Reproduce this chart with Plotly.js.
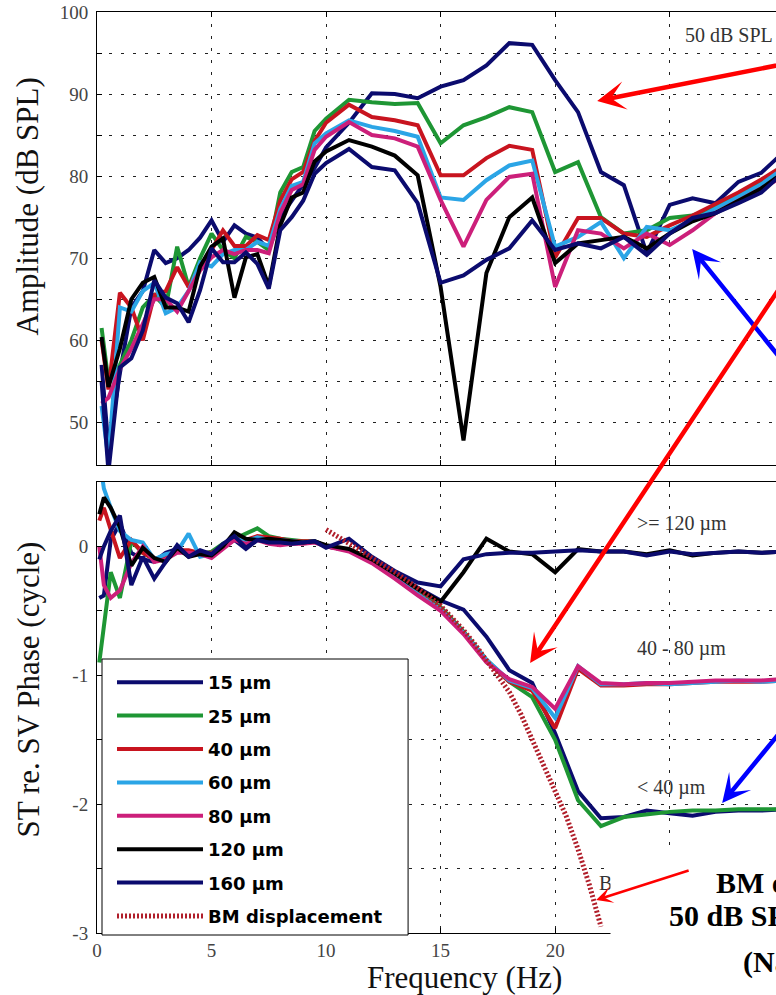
<!DOCTYPE html>
<html><head><meta charset="utf-8">
<script src="https://cdn.plot.ly/plotly-3.0.1.min.js"></script>
<style>html,body{margin:0;padding:0;overflow:hidden;background:#fff;width:776px;height:995px}#chart{width:1000px;height:995px}</style>
</head><body><div id="chart"></div><script>
// ---------------- data ----------------
const seriesNames = ['15 \u00b5m','25 \u00b5m','40 \u00b5m','60 \u00b5m','80 \u00b5m','120 \u00b5m','160 \u00b5m'];
const bmName = 'BM displacement';

const freqAmp = [0.2,0.5,1,1.5,2,2.5,3,3.5,4,4.5,5,5.5,6,6.5,7,7.5,8,8.5,9,9.5,10,11,12,13,14,15,16,17,18,19,20,21,22,23,24,25,26,27,28,29,30];
const amp15  = [57,47,56,64,66,71,69.4,70,71,72.5,74.6,72,74,73,72.5,71,75,77,79,81,83.5,86.5,90.1,90,89.5,90.9,91.7,93.5,96.2,96,91.7,87.8,80.5,78.9,70.6,76.5,77.3,76.7,79.3,80.4,83];
const amp25  = [61.5,55,57,60,64,65.5,64,71.4,66.5,70,73,71,70,72.6,72,71,78,80.5,81.1,85.5,87,89.3,89,88.8,88.9,84,86.2,87.2,88.4,87.8,80.5,81.7,75,73,73.4,74.9,75.2,76.2,77.6,79.2,81.2];
const amp40  = [60,54,65.8,64,60,65.5,66,68.9,66.5,69,71,73.4,71.5,71.5,72.8,72.2,77,79.6,80.5,84.3,86.5,88.7,87.2,86.8,86.2,80.1,80.1,82.2,83.7,83.2,70.1,74.9,74.9,73,72.6,74,75.2,76.6,78,79.6,81.3];
const amp60  = [52,45.5,64,63.5,66,67,63.3,64,66,69.5,69,70.5,71,71,72,71.5,76,78.8,79.3,84,85.2,86.8,86,85.5,84.8,77.4,77.1,79.5,81.3,81.9,71.4,72.6,74.4,70,73.8,73.4,74.6,76,77.5,79,81];
const amp80  = [52.3,53,56.5,59,62,65,65,63.5,66,68.5,70.1,71,70.5,71,71,70.6,75.5,78.3,79,83.2,84.8,86.6,85,84.6,83.6,77.1,71.4,77.1,79.9,80.3,66.5,73.4,73,71.2,73,71.6,73.4,75.5,77,78.5,80];
const amp120 = [60.4,54.3,59,65,67,67.7,64,64,63.5,69,71.4,72.4,65.2,70.1,70.5,66.6,74,77.4,78,81.8,83,84.4,83.6,82.5,80.1,66.5,47.8,68.2,75,77.4,69.4,71.8,72.2,72.6,71.2,73,74.5,75.5,77,78.5,80.5];
const amp160 = [55,44,56.7,57.8,61.2,67.3,65.2,64.5,62.2,66.1,71.2,69.5,69.5,70.7,69.3,66.3,73.4,75,77,80.3,81.6,83.3,81.1,80.7,76.7,67,67.9,69.8,71.2,74.6,71,71.8,71.2,72.6,70.4,73,74.9,75.5,76.7,78,80.5];

const freqPhase = [0.1,0.3,0.6,1,1.5,2,2.5,3,3.5,4,4.5,5,5.5,6,6.5,7,7.5,8,8.5,9,9.5,10,11,12,13,14,15,16,17,18,19,20,21,22,23,24,25,26,27,28,29,30];
const phase15  = [-0.4,-0.38,0.05,0.18,-0.05,-0.1,-0.12,-0.05,-0.02,-0.07,-0.05,-0.07,0.0,0.05,-0.02,0.05,0.04,0.03,0.02,0.03,0.04,0.0,-0.03,-0.1,-0.21,-0.32,-0.42,-0.49,-0.7,-0.96,-1.06,-1.45,-1.9,-2.11,-2.1,-2.05,-2.07,-2.09,-2.06,-2.05,-2.05,-2.04];
const phase25  = [-0.9,-0.6,-0.2,-0.4,0.04,-0.05,-0.1,-0.08,-0.02,-0.05,-0.06,-0.04,0.02,0.06,0.1,0.14,0.08,0.06,0.05,0.04,0.04,0.0,-0.03,-0.12,-0.24,-0.36,-0.47,-0.66,-0.88,-1.05,-1.17,-1.5,-1.97,-2.17,-2.1,-2.08,-2.06,-2.05,-2.05,-2.04,-2.04,-2.04];
const phase40  = [0.2,0.3,0.13,-0.09,0.05,-0.05,-0.1,-0.07,-0.03,-0.03,-0.05,-0.05,0.0,0.06,0.05,0.08,0.07,0.06,0.04,0.04,0.04,0.0,-0.03,-0.12,-0.24,-0.37,-0.48,-0.67,-0.89,-1.05,-1.12,-1.41,-0.95,-1.08,-1.08,-1.07,-1.07,-1.06,-1.05,-1.05,-1.05,-1.04];
const phase60  = [0.7,0.45,0.3,0.12,0.05,0.03,-0.1,-0.06,-0.04,0.1,-0.08,-0.06,0.0,0.06,0.04,0.07,0.05,0.05,0.04,0.03,0.04,0.0,-0.03,-0.12,-0.24,-0.37,-0.49,-0.67,-0.88,-1.04,-1.1,-1.33,-0.93,-1.07,-1.07,-1.06,-1.07,-1.06,-1.05,-1.04,-1.05,-1.04];
const phase80  = [0.0,-0.3,-0.4,-0.34,-0.13,0.0,-0.12,-0.1,-0.05,-0.05,-0.06,-0.09,-0.02,0.05,0.02,0.05,0.02,0.01,0.02,0.02,0.03,0.0,-0.04,-0.13,-0.25,-0.38,-0.5,-0.68,-0.9,-1.03,-1.09,-1.26,-0.93,-1.06,-1.07,-1.06,-1.06,-1.05,-1.04,-1.04,-1.04,-1.03];
const phase120 = [0.25,0.38,0.3,0.15,-0.15,-0.01,-0.09,-0.12,-0.01,-0.08,-0.06,-0.07,0.0,0.11,0.06,0.05,0.06,0.05,0.04,0.03,0.04,0.01,-0.02,-0.1,-0.21,-0.33,-0.43,-0.2,0.06,-0.04,-0.06,-0.2,-0.02,-0.04,-0.04,-0.06,-0.03,-0.07,-0.05,-0.04,-0.05,-0.04];
const phase160 = [-0.1,0.0,0.12,0.24,-0.3,-0.08,-0.25,-0.12,0.01,-0.08,-0.03,-0.06,0.02,0.08,-0.01,0.05,0.03,0.03,0.02,0.03,0.04,-0.01,0.06,-0.08,-0.19,-0.28,-0.31,-0.1,-0.06,-0.05,-0.05,-0.04,-0.03,-0.04,-0.04,-0.07,-0.04,-0.06,-0.05,-0.04,-0.05,-0.04];

const freqBM  = [10,10.5,11,11.5,12,12.5,13,13.5,14,14.5,15,15.5,16,16.5,17,17.5,18,18.5,19,19.5,20,20.5,21,21.5,22];
const phaseBM = [0.13,0.08,0.03,-0.03,-0.09,-0.14,-0.2,-0.26,-0.32,-0.39,-0.46,-0.55,-0.65,-0.76,-0.88,-1.0,-1.13,-1.3,-1.5,-1.68,-1.88,-2.1,-2.35,-2.63,-2.95];

// tick labels (25 and 30 lie under the white caption panel in the reference)
const xTickVals = [0,5,10,15,20,25,30];
const xTickText = ['0','5','10','15','20','',''];
const ampTickVals = [50,55,60,65,70,75,80,85,90,95,100];
const ampTickText = ['50','','60','','70','','80','','90','','100'];
const phTickVals = [-3,-2.5,-2,-1.5,-1,-0.5,0,0.5];
const phTickText = ['-3','','-2','','-1','','0',''];

// ---------------- styles / layout ----------------
const ampSeries = [amp15,amp25,amp40,amp60,amp80,amp120,amp160];
const phSeries = [phase15,phase25,phase40,phase60,phase80,phase120,phase160];
const colors = ['#0b0b6e','#1e9634','#c8141f','#2ba5e6','#cc1f7a','#000000','#0b0b6e'];
const bmColor = '#b01e2a';

const W = 1000, H = 995;
const L = 97, T = 12, Bm = 62;
const XMAX = 32, PXHZ = 22.9;
const plotW = XMAX * PXHZ;
const R = W - L - plotW;
const plotH = H - T - Bm;
const px2x = px => (px - L) / plotW;
const py2y = py => (H - Bm - py) / plotH;

const serif = 'Liberation Serif, Times New Roman, serif';
const traces = [];
for (let i = 0; i < seriesNames.length; i++) {
  traces.push({x: freqAmp, y: ampSeries[i], xaxis: 'x2', yaxis: 'y', mode: 'lines', name: seriesNames[i],
    legendgroup: 'g' + i, showlegend: false, line: {color: colors[i], width: 4}, hoverinfo: 'skip'});
}
for (let i = 0; i < seriesNames.length; i++) {
  traces.push({x: freqPhase, y: phSeries[i], xaxis: 'x', yaxis: 'y2', mode: 'lines', name: seriesNames[i],
    legendgroup: 'g' + i, showlegend: true, line: {color: colors[i], width: 4}, hoverinfo: 'skip'});
}
traces.push({x: freqBM, y: phaseBM, xaxis: 'x', yaxis: 'y2', mode: 'lines', name: bmName, legendgroup: 'gbm',
  showlegend: true, line: {color: bmColor, width: 5, dash: '2px,2px'}, hoverinfo: 'skip'});

const axCommon = {showline: true, linecolor: '#000', linewidth: 1, mirror: 'ticks', ticks: 'inside', ticklen: 5,
  tickcolor: '#000', showgrid: true, gridcolor: '#222', gridwidth: 1, griddash: '3px,9px', zeroline: false,
  tickfont: {family: serif, size: 19, color: '#444'}, tickmode: 'array', fixedrange: true};

function ann(text, px, py, size, opts) {
  return Object.assign({text: text, x: px2x(px), y: py2y(py), xref: 'paper', yref: 'paper', showarrow: false,
    xanchor: 'left', yanchor: 'middle', font: {family: serif, size: size, color: '#333'}}, opts || {});
}
function arrow(hx, hy, tx, ty, color, width, size) {
  return {text: '', x: px2x(hx), y: py2y(hy), xref: 'paper', yref: 'paper', ax: tx - hx, ay: ty - hy,
    axref: 'pixel', ayref: 'pixel', showarrow: true, arrowhead: 3, arrowsize: size, arrowwidth: width,
    arrowcolor: color, standoff: 0, startstandoff: 0};
}

const annotations = [
  ann('Amplitude (dB SPL)', 28.5, 206, 31, {textangle: -90, xanchor: 'center', font: {family: serif, size: 31, color: '#111'}}),
  ann('ST re. SV Phase (cycle)', 28.5, 689, 31, {textangle: -90, xanchor: 'center', font: {family: serif, size: 31, color: '#111'}}),
  ann('Frequency (Hz)', 464, 977, 31, {xanchor: 'center', font: {family: serif, size: 31, color: '#111'}}),
  ann('50 dB SPL', 683, 35, 20),
  ann('&gt;= 120 \u00b5m', 635, 523, 20),
  ann('40 - 80 \u00b5m', 635, 648, 20),
  ann('&lt; 40 \u00b5m', 635, 787, 20),
  ann('BM', 597, 883, 20),
  // white panel covering the lower right corner
  ann(' ', 610, 850, 10, {yanchor: 'top', width: 400, height: 200, bgcolor: '#fff', borderpad: 0}),
  ann('BM data at', 714, 882, 30, {font: {family: serif, size: 30, color: '#000', weight: 'bold'}}),
  ann('50 dB SPL from', 667, 915, 30, {font: {family: serif, size: 30, color: '#000', weight: 'bold'}}),
  ann('(Narayan 1998)', 741, 962, 30, {font: {family: serif, size: 30, color: '#000', weight: 'bold'}}),
  arrow(596, 900, 690, 870, '#ff0000', 2.5, 1.1),
  arrow(597, 101, 880, 45, '#ff0000', 4.5, 1.05),
  arrow(692, 249, 880, 482, '#0000ff', 4.5, 1.05),
  arrow(530, 663, 880, 137, '#ff0000', 4.5, 1.05),
  arrow(722, 803, 880, 610, '#0000ff', 4.5, 1.05)
];

// legend frame (white, bordered) drawn over the traces; native legend entries sit on it
const shapes = [
  {type: 'rect', xref: 'paper', yref: 'paper', x0: px2x(102), x1: px2x(408), y0: py2y(935), y1: py2y(659),
   fillcolor: '#fff', line: {color: '#000', width: 1}, layer: 'above'}
];

const layout = {
  width: W, height: H, paper_bgcolor: '#fff', plot_bgcolor: '#fff',
  margin: {l: L, r: R, t: T, b: Bm, pad: 0},
  showlegend: true,
  legend: {x: px2x(112), y: py2y(664), xanchor: 'left', yanchor: 'top', bgcolor: 'rgba(0,0,0,0)',
    borderwidth: 0, font: {family: 'DejaVu Sans', size: 18, weight: 'bold', color: '#000'}, itemwidth: 86,
    tracegroupgap: 7, traceorder: 'grouped'},
  xaxis: Object.assign({}, axCommon, {domain: [0, 1], anchor: 'y2', range: [0, XMAX], tickvals: xTickVals, ticktext: xTickText}),
  xaxis2: Object.assign({}, axCommon, {domain: [0, 1], anchor: 'y', range: [0, XMAX], tickvals: xTickVals, ticktext: xTickText, showticklabels: false, matches: 'x'}),
  yaxis: Object.assign({}, axCommon, {domain: [py2y(465), 1], anchor: 'x2', range: [44.8, 100], tickvals: ampTickVals, ticktext: ampTickText, ticklabelstandoff: 4}),
  yaxis2: Object.assign({}, axCommon, {domain: [0, py2y(482)], anchor: 'x', range: [-3, 0.5], tickvals: phTickVals, ticktext: phTickText, ticklabelstandoff: 4}),
  shapes: shapes,
  annotations: annotations
};

Plotly.newPlot('chart', traces, layout, {staticPlot: true, displayModeBar: false});
</script></body></html>
